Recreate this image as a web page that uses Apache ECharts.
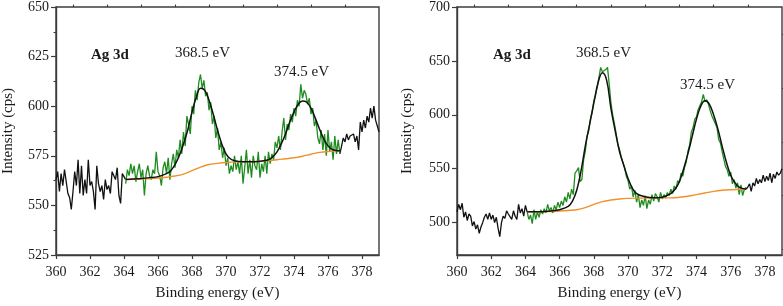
<!DOCTYPE html>
<html>
<head>
<meta charset="utf-8">
<script src="https://cdn.jsdelivr.net/npm/echarts@6/dist/echarts.min.js"></script>
<style>
  html, body { margin: 0; padding: 0; background: #fff; }
  #chart { width: 783px; height: 306px; }
</style>
</head>
<body>
<div id="chart"></div>
<script>
// ---- data (binding energy in eV, intensity in cps) ----
var eStep = 0.1;
var xTickLabels = [360, 362, 364, 366, 368, 370, 372, 374, 376, 378];
var xMinorTicks = [361, 363, 365, 367, 369, 371, 373, 375, 377];
var leftYLabels = [525, 550, 575, 600, 625, 650];
var rightYLabels = [500, 550, 600, 650, 700];
var rightYMinor = [475, 525, 575, 625, 675];

// left panel : raw spectrum (black outside the fit window, green inside)
var leftPreStart = 360.0;
var leftPre = [
  563, 567, 557, 566, 560, 568, 569, 556, 554, 548,
  557, 567, 560, 573, 556, 570, 555, 563, 556, 573,
  560, 562, 557, 548, 570, 561, 557, 560, 553, 563,
  558, 560, 556, 567, 566, 563, 569, 555, 551, 566,
  566, 563
];
var leftGreenStart = 364.1;
var leftGreen = [
  561, 568, 565, 571, 566, 570, 562, 567, 571, 564,
  568, 555, 566, 570, 565, 563, 568, 566, 577, 567,
  565, 560, 569, 572, 566, 574, 563, 571, 576, 569,
  578, 574, 583, 576, 587, 580, 595, 591, 586, 600,
  596, 608, 603, 612, 616, 609, 613, 605, 607, 598,
  602, 591, 595, 584, 589, 578, 582, 574, 579, 570,
  574, 566, 570, 567, 575, 568, 572, 566, 575, 561,
  569, 578, 566, 573, 564, 575, 570, 568, 577, 564,
  571, 567, 575, 566, 577, 571, 576, 573, 582, 579,
  585, 578, 587, 594, 583, 591, 588, 596, 592, 599,
  595, 603, 600, 611, 604, 608, 606, 601, 604, 596,
  599, 590, 593, 584, 581, 588, 578, 586, 575, 588,
  577, 582, 573, 585, 576, 583, 576
];
var leftPostStart = 376.7;
var leftPost = [
  576, 580, 584, 582, 586, 583, 585, 584, 586, 582,
  585, 578, 592, 587, 593, 589, 595, 592, 599, 594,
  600, 593, 590, 587
];
// left panel : envelope fit and background
var leftFitE = [364.1, 364.5, 365, 365.5, 366, 366.5, 366.75, 367, 367.25, 367.5, 367.75, 368, 368.25, 368.5, 368.75, 369, 369.25, 369.5, 369.75, 370, 370.25, 370.5, 371, 371.5, 372, 372.5, 372.75, 373, 373.25, 373.5, 373.75, 374, 374.25, 374.5, 374.75, 375, 375.25, 375.5, 375.75, 376, 376.25, 376.5, 376.7];
var leftFitI = [563, 563.3, 563.6, 564, 564.5, 566, 567.5, 570.5, 575, 581, 588, 597, 604.5, 609, 608, 603, 596, 588, 581, 576, 573.5, 572.5, 572, 572, 572.3, 573, 574.5, 577, 581, 586, 592, 597, 601, 602.6, 602, 599, 594, 588.5, 583.5, 580, 578.2, 577.6, 577.5];
var leftBgE = [364.1, 365, 366, 366.5, 367, 367.5, 368, 368.5, 369, 369.5, 370, 371, 372, 372.5, 373, 373.5, 374, 374.5, 375, 375.5, 376, 376.7];
var leftBgI = [563, 563.3, 563.8, 564.2, 564.8, 565.8, 567.5, 569.3, 570.6, 571.2, 571.6, 572, 572.3, 572.6, 573, 573.5, 574, 574.8, 575.8, 576.7, 577.2, 577.5];

// right panel
var rightPreStart = 360.0;
var rightPre = [
  510, 517, 512, 518, 505, 510, 502, 508, 506, 497,
  501, 494, 498, 490, 496, 500, 505, 508, 503, 509,
  503, 507, 500, 505, 495, 487, 500, 506, 504, 511,
  508, 507, 503, 511, 506, 503, 517, 509, 513, 506,
  516, 510
];
var rightGreenStart = 364.1;
var rightGreen = [
  510, 503, 507, 499, 512, 503, 510, 505, 512, 508,
  513, 509, 517, 511, 514, 509, 516, 512, 519, 514,
  520, 516, 524, 519, 528, 522, 531, 526, 546, 548,
  551, 538, 540, 558, 566, 580, 585, 596, 602, 613,
  618, 626, 635, 644, 640, 639, 642, 644, 628, 611,
  600, 592, 583, 573, 568, 561, 556, 551, 543, 539,
  531, 534, 524, 530, 519, 526, 514, 521, 516, 525,
  513, 521, 517, 526, 520, 527, 524, 519, 528, 522,
  526, 523, 528, 525, 531, 527, 534, 531, 539, 537,
  546, 543, 551, 556, 566, 572, 584, 588, 596, 598,
  605, 606, 612, 619, 612, 614, 610, 604, 599, 598,
  592, 588, 577, 574, 566, 559, 552, 549, 543, 547,
  536, 540, 532, 537, 526, 535, 525, 531, 533
];
var rightPostStart = 376.9;
var rightPost = [
  531, 533, 536, 529, 537, 534, 541, 536, 540, 537,
  544, 538, 543, 539, 546, 537, 545, 541, 547, 544,
  546, 550
];
var rightFitE = [364.1, 364.5, 365, 365.5, 366, 366.5, 366.75, 367, 367.25, 367.5, 367.75, 368, 368.25, 368.5, 368.75, 369, 369.25, 369.5, 369.75, 370, 370.25, 370.5, 371, 371.5, 372, 372.5, 372.75, 373, 373.25, 373.5, 373.75, 374, 374.25, 374.5, 374.75, 375, 375.25, 375.5, 375.75, 376, 376.25, 376.5, 376.9];
var rightFitI = [510, 510, 510.2, 510.8, 512, 515, 520, 530, 548, 571, 591, 611, 630, 639, 632, 606, 585, 566, 553, 541, 532, 527, 524, 523, 523.5, 527, 531, 538, 550, 564, 580, 596, 608, 613, 610, 600, 587, 571, 556, 544, 537, 533, 531];
var rightBgE = [364.1, 365, 365.5, 366, 366.5, 367, 367.5, 368, 368.5, 369, 369.5, 370, 371, 372, 372.5, 373, 373.5, 374, 374.5, 375, 375.5, 376, 376.9];
var rightBgI = [510, 510, 510.3, 510.8, 511.3, 512, 514, 517, 519.5, 521, 522, 522.5, 522.8, 523, 523, 523.5, 524.5, 526, 527.5, 529, 530, 530.5, 531];

// ---- helpers ----
function stepped(start, vals) {
  return vals.map(function (v, i) {
    return [Math.round((start + i * eStep) * 10) / 10, v];
  });
}
function zipped(xs, ys) {
  return xs.map(function (x, i) { return [x, ys[i]]; });
}

var serif = '"Liberation Serif", "Times New Roman", serif';
var axisColor = '#3c3c3c';
var textColor = '#1a1a1a';
var greenColor = '#1f8c1f';
var orangeColor = '#f0922b';
var blackColor = '#111111';

function xAxisFor(gi) {
  return {
    type: 'value', gridIndex: gi, min: 360, max: 379,
    name: 'Binding energy (eV)', nameLocation: 'middle', nameGap: 31,
    nameTextStyle: { fontFamily: serif, fontSize: 15, color: textColor },
    axisLine: { onZero: false, lineStyle: { color: axisColor, width: 1.4 } },
    axisTick: { length: 4, customValues: xTickLabels, lineStyle: { color: axisColor, width: 1.2 } },
    axisLabel: { fontFamily: serif, fontSize: 14, color: textColor, margin: 10, customValues: xTickLabels },
    splitLine: { show: false }
  };
}
function xMinorFor(gi) {
  return {
    type: 'value', gridIndex: gi, min: 360, max: 379,
    axisLine: { show: false },
    axisTick: { length: 2.5, customValues: xMinorTicks, lineStyle: { color: axisColor, width: 1.1 } },
    axisLabel: { show: false },
    splitLine: { show: false }
  };
}

function rawSeries(xi, yi, data, color) {
  return {
    type: 'line', xAxisIndex: xi, yAxisIndex: yi, data: data,
    showSymbol: false, symbol: 'none', silent: true,
    lineStyle: { color: color, width: 1.3 }, z: 2
  };
}
function smoothSeries(xi, yi, data, color, width, z) {
  return {
    type: 'line', xAxisIndex: xi, yAxisIndex: yi, data: data, smooth: 0.4,
    showSymbol: false, symbol: 'none', silent: true,
    lineStyle: { color: color, width: width }, z: z
  };
}

var chart = echarts.init(document.getElementById('chart'));
chart.setOption({
  animation: false,
  backgroundColor: '#ffffff',
  grid: [
    { left: 54, top: 6, width: 325, height: 255, show: true, borderColor: axisColor, borderWidth: 1.4, backgroundColor: 'transparent' },
    { left: 457, top: 6, width: 325, height: 255, show: true, borderColor: axisColor, borderWidth: 1.4, backgroundColor: 'transparent' }
  ],
  xAxis: [xAxisFor(0), xAxisFor(1), xMinorFor(0), xMinorFor(1)],
  yAxis: [
    {
      type: 'value', gridIndex: 0, min: 525, max: 650, interval: 25,
      name: 'Intensity (cps)', nameLocation: 'middle', nameGap: 40,
      nameTextStyle: { fontFamily: serif, fontSize: 15, color: textColor },
      axisLine: { show: true, onZero: false, lineStyle: { color: axisColor, width: 1.4 } },
      axisTick: { show: true, length: 5, lineStyle: { color: axisColor, width: 1.2 } },
      minorTick: { show: true, splitNumber: 2, length: 2.5, lineStyle: { color: axisColor, width: 1.1 } },
      axisLabel: { fontFamily: serif, fontSize: 14, color: textColor, margin: 7, customValues: leftYLabels },
      splitLine: { show: false }
    },
    {
      type: 'value', gridIndex: 1, min: 470, max: 700,
      name: 'Intensity (cps)', nameLocation: 'middle', nameGap: 42,
      nameTextStyle: { fontFamily: serif, fontSize: 15, color: textColor },
      axisLine: { show: true, onZero: false, lineStyle: { color: axisColor, width: 1.4 } },
      axisTick: { show: true, length: 5, customValues: rightYLabels, lineStyle: { color: axisColor, width: 1.2 } },
      axisLabel: { fontFamily: serif, fontSize: 14, color: textColor, margin: 7, customValues: rightYLabels },
      splitLine: { show: false }
    },
    {
      // short minor ticks for the right panel
      type: 'value', gridIndex: 1, min: 470, max: 700,
      axisLine: { show: false },
      axisTick: { show: true, length: 2.5, customValues: rightYMinor, lineStyle: { color: axisColor, width: 1.1 } },
      axisLabel: { show: false },
      splitLine: { show: false }
    }
  ],
  series: [
    rawSeries(0, 0, stepped(leftPreStart, leftPre), blackColor),
    rawSeries(0, 0, stepped(leftPostStart, leftPost), blackColor),
    rawSeries(0, 0, stepped(leftGreenStart, leftGreen), greenColor),
    smoothSeries(0, 0, zipped(leftBgE, leftBgI), orangeColor, 1.4, 3),
    smoothSeries(0, 0, zipped(leftFitE, leftFitI), blackColor, 1.5, 4),

    rawSeries(1, 1, stepped(rightPreStart, rightPre), blackColor),
    rawSeries(1, 1, stepped(rightPostStart, rightPost), blackColor),
    rawSeries(1, 1, stepped(rightGreenStart, rightGreen), greenColor),
    smoothSeries(1, 1, zipped(rightBgE, rightBgI), orangeColor, 1.4, 3),
    smoothSeries(1, 1, zipped(rightFitE, rightFitI), blackColor, 1.5, 4)
  ],
  graphic: [
    { type: 'text', x: 91, y: 55, style: { text: 'Ag 3d', font: 'bold 15px ' + serif, fill: textColor, verticalAlign: 'middle' } },
    { type: 'text', x: 175, y: 53, style: { text: '368.5 eV', font: '15px ' + serif, fill: textColor, verticalAlign: 'middle' } },
    { type: 'text', x: 274, y: 72, style: { text: '374.5 eV', font: '15px ' + serif, fill: textColor, verticalAlign: 'middle' } },
    { type: 'text', x: 493, y: 55, style: { text: 'Ag 3d', font: 'bold 15px ' + serif, fill: textColor, verticalAlign: 'middle' } },
    { type: 'text', x: 576, y: 53, style: { text: '368.5 eV', font: '15px ' + serif, fill: textColor, verticalAlign: 'middle' } },
    { type: 'text', x: 680, y: 85, style: { text: '374.5 eV', font: '15px ' + serif, fill: textColor, verticalAlign: 'middle' } }
  ]
});
</script>
</body>
</html>
